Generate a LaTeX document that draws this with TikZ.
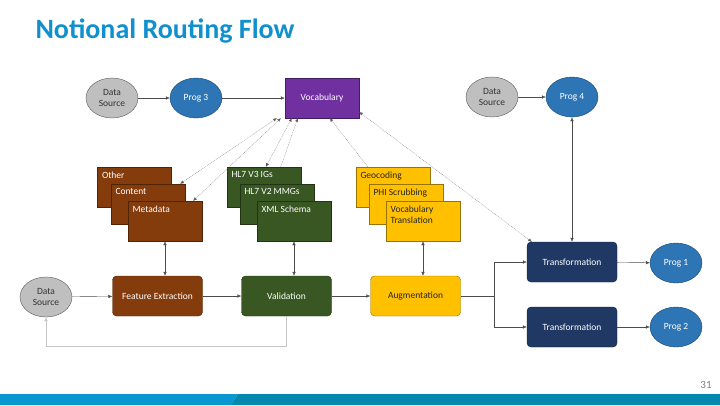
\documentclass[tikz,border=0pt]{standalone}
\usepackage{fontspec}
\setmainfont{Carlito}
\usepackage{tikz}
\usetikzlibrary{arrows.meta,positioning,shapes.geometric}
\definecolor{titleblue}{HTML}{1190CE}
\definecolor{srcgray}{HTML}{BFBFBF}
\definecolor{progblue}{HTML}{2E75B6}
\definecolor{vocpurple}{HTML}{7030A0}
\definecolor{featbrown}{HTML}{843C0C}
\definecolor{valgreen}{HTML}{385723}
\definecolor{augyellow}{HTML}{FFC000}
\definecolor{trnavy}{HTML}{1F3864}
\definecolor{barlight}{HTML}{0897CF}
\definecolor{bardark}{HTML}{0588AD}
\begin{document}
\begin{tikzpicture}[x=1pt,y=-1pt,
  font=\fontsize{9.5}{11.5}\selectfont,
  arr/.style={-{Latex[length=4pt,width=3.5pt]},gray!60!black,thin},
  dblarr/.style={{Latex[length=4pt,width=3.5pt]}-{Latex[length=4pt,width=3.5pt]},gray!60!black,thin},
  link/.style={gray!70!black,very thin,dash pattern=on 1pt off 0.8pt},
  src/.style={ellipse,draw=black!65,fill=srcgray,minimum width=52pt,minimum height=40pt,inner sep=0pt,align=center,text=black!80},
  prog/.style={ellipse,draw=progblue!60!black,fill=progblue,minimum width=52pt,minimum height=40pt,inner sep=0pt,text=white},
  stackbox/.style={draw=#1!60!black,fill=#1,minimum width=74pt,minimum height=40pt,inner sep=0pt},
  stacklbl/.style={anchor=north west,inner sep=4.5pt,align=left},
  stagebox/.style={draw=#1!60!black,fill=#1,rounded corners=4pt,minimum width=90pt,minimum height=40pt,inner sep=0pt}]
\useasboundingbox (0,0) rectangle (720,405);
% Title
\node[anchor=west,font=\fontsize{28}{30}\selectfont\bfseries,text=titleblue] (title) at (32,31) {Notional Routing Flow};
% Top row
\node[src] (ds1) at (112,98) {Data\\Source};
\node[prog] (prog3) at (196,98) {Prog 3};
\node[stackbox=vocpurple,text=white] (vocab) at (322,98) {Vocabulary};
\node[src] (ds2) at (492,97) {Data\\Source};
\node[prog] (prog4) at (572,97) {Prog 4};
% Feature stacks
\node[stackbox=featbrown,label={[stacklbl,text=white]north west:Other}] (other) at (134.5,187) {};
\node[stackbox=featbrown,label={[stacklbl,text=white]north west:Content}] (content) at (148,204) {};
\node[stackbox=featbrown,label={[stacklbl,text=white]north west:Metadata}] (meta) at (165,221) {};
% Validation stacks
\node[stackbox=valgreen,label={[stacklbl,text=white]north west:HL7 V3 IGs}] (hl3) at (264,187) {};
\node[stackbox=valgreen,label={[stacklbl,text=white]north west:HL7 V2 MMGs}] (hl2) at (277,204) {};
\node[stackbox=valgreen,label={[stacklbl,text=white]north west:XML Schema}] (xml) at (294,221) {};
% Augmentation stacks
\node[stackbox=augyellow,label={[stacklbl,text=black!85]north west:Geocoding}] (geo) at (393,187) {};
\node[stackbox=augyellow,label={[stacklbl,text=black!85]north west:PHI Scrubbing}] (phi) at (406,204) {};
\node[stackbox=augyellow,label={[stacklbl,text=black!85]north west:Vocabulary\\Translation}] (vtrans) at (423,221) {};
% Processing row
\node[src] (ds3) at (46,297) {Data\\Source};
\node[stagebox=featbrown,text=white] (feat) at (157.5,296) {Feature Extraction};
\node[stagebox=valgreen,text=white] (valid) at (286.5,296) {Validation};
\node[stagebox=augyellow,text=black!85] (augm) at (415.5,296) {Augmentation};
\node[stagebox=trnavy,text=white] (trans1) at (572,262) {Transformation};
\node[stagebox=trnavy,text=white] (trans2) at (572,327) {Transformation};
\node[prog] (prog1) at (676,263) {Prog 1};
\node[prog] (prog2) at (676,327) {Prog 2};
% Connections
\draw[arr] (ds1) -- (prog3);
\draw[arr] (prog3) -- (vocab);
\draw[arr] (ds2) -- (prog4);
\draw[dblarr] (prog4) -- (trans1);
\draw[arr] (ds3) -- (feat);
\draw[arr] (feat) -- (valid);
\draw[arr] (valid) -- (augm);
\draw[gray!60!black,thin] (augm.east) -- ++(33,0) coordinate (split);
\draw[arr] (split) |- (trans1);
\draw[arr] (split) |- (trans2);
\draw[arr] (trans1) -- (prog1);
\draw[arr] (trans2) -- (prog2);
\draw[arr,gray!45] (valid.south) -- ++(0,30) -| (ds3.south);
% Stacks to stages
\draw[dblarr] (meta.south) -- (meta.south |- feat.north);
\draw[dblarr] (xml.south) -- (xml.south |- valid.north);
\draw[dblarr] (vtrans.south) -- (vtrans.south |- augm.north);
% Vocabulary links
\draw[link,{Latex[length=3.5pt,width=3pt]}-{Latex[length=3.5pt,width=3pt]}] ([xshift=-5pt]content.north east) -- ([xshift=-8pt]vocab.south west);
\draw[link,{Latex[length=3.5pt,width=3pt]}-{Latex[length=3.5pt,width=3pt]}] ([xshift=-9pt]meta.north east) -- ([xshift=-4pt]vocab.south west);
\draw[link,{Latex[length=3.5pt,width=3pt]}-{Latex[length=3.5pt,width=3pt]}] ([xshift=39pt]hl3.north west) -- ([xshift=7pt]vocab.south west);
\draw[link,-{Latex[length=3.5pt,width=3pt]}] ([xshift=54pt]hl3.north west) -- ([xshift=13pt]vocab.south west);
\draw[link,-{Latex[length=3.5pt,width=3pt]}] ([xshift=12pt]geo.north west) -- ([xshift=45pt]vocab.south west);
\draw[link,{Latex[length=3.5pt,width=3pt]}-{Latex[length=3.5pt,width=3pt]}] ([xshift=5pt]trans1.north west) -- ([yshift=-14pt]vocab.east);
% Footer
\fill[barlight] (0,394) -- (238,394) -- (231,405) -- (0,405) -- cycle;
\fill[bardark] (238,394) -- (720,394) -- (720,405) -- (231,405) -- cycle;
\node[text=gray,font=\fontsize{11}{12}\selectfont] (pagenum) at (706,385) {31};
\end{tikzpicture}
\end{document}
